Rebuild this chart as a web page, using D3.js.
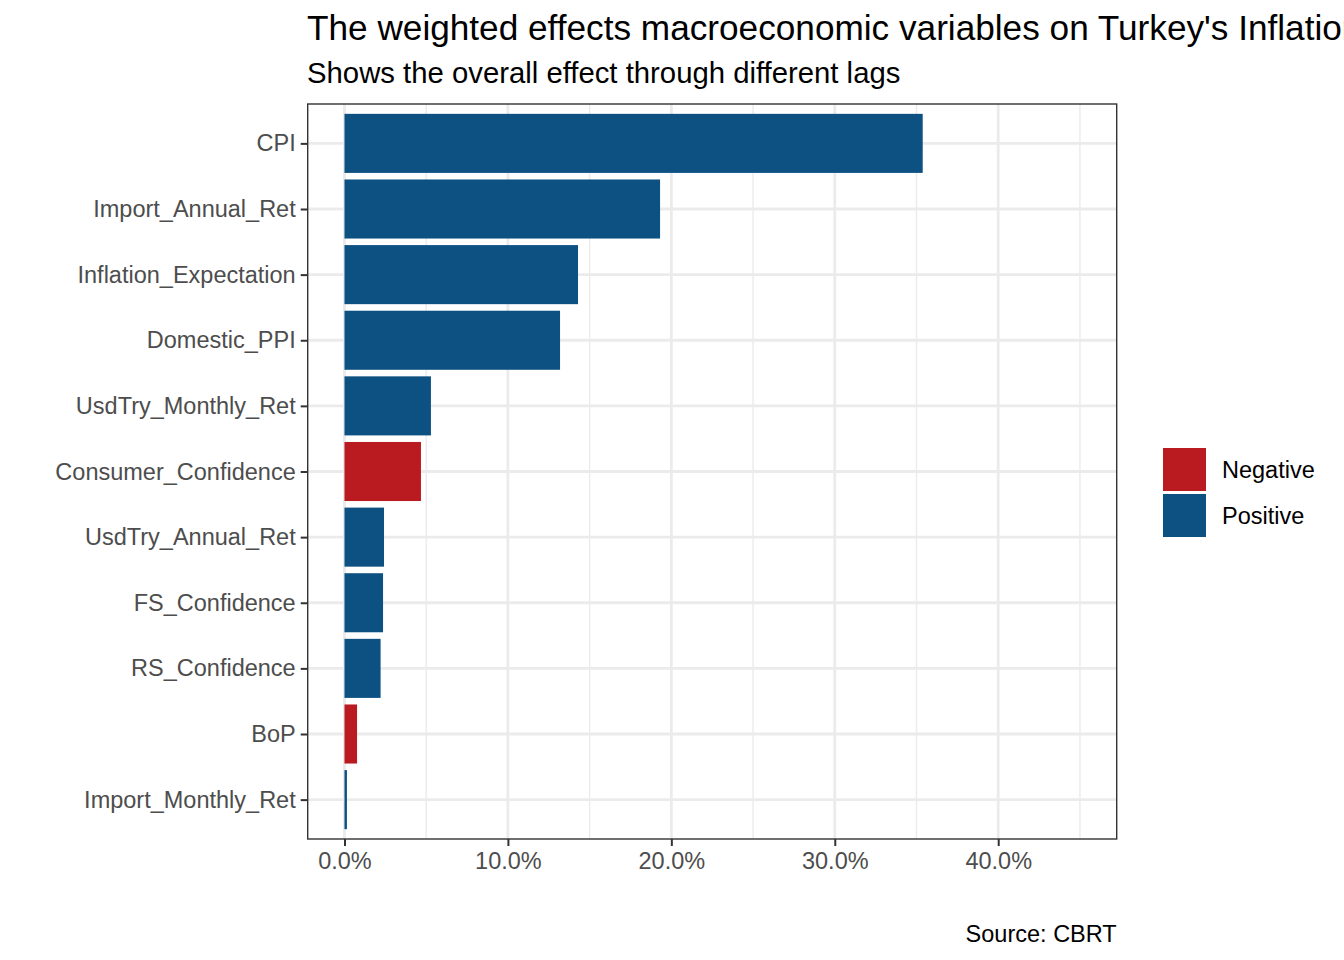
<!DOCTYPE html>
<html>
<head>
<meta charset="utf-8">
<script src="https://cdn.jsdelivr.net/npm/d3@7"></script>
<style>
  html, body { margin: 0; padding: 0; background: #fff; }
  svg { display: block; font-family: "Liberation Sans", Arial, Helvetica, sans-serif; }
</style>
</head>
<body>
<svg id="chart" width="1344" height="960"></svg>
<script>
// ---- data ----
const categories = ["CPI", "Import_Annual_Ret", "Inflation_Expectation", "Domestic_PPI",
  "UsdTry_Monthly_Ret", "Consumer_Confidence", "UsdTry_Annual_Ret", "FS_Confidence",
  "RS_Confidence", "BoP", "Import_Monthly_Ret"];
const values = [0.3538, 0.1931, 0.1429, 0.1319, 0.0529, 0.0468, 0.0242, 0.0236, 0.0221, 0.0077, 0.0015];
const signs = ["Positive", "Positive", "Positive", "Positive", "Positive", "Negative",
  "Positive", "Positive", "Positive", "Negative", "Positive"];
const legendLabels = ["Negative", "Positive"];
const legendColors = ["#BA1B21", "#0C5181"];
const xTicks = [0, 0.1, 0.2, 0.3, 0.4];
const xMinor = [0.05, 0.15, 0.25, 0.35, 0.45];
const titleText = "The weighted effects macroeconomic variables on Turkey's Inflation";
const subtitleText = "Shows the overall effect through different lags";
const captionText = "Source: CBRT";

// ---- layout ----
const svg = d3.select("#chart");
const panel = { left: 307.7, right: 1116.7, top: 104, bottom: 839 };
const xLim = [0, 0.45];
const xExp = (xLim[1] - xLim[0]) * 0.05;
const x = d3.scaleLinear().domain([xLim[0] - xExp, xLim[1] + xExp]).range([panel.left, panel.right]);
const yIdx = d3.scaleLinear().domain([-0.6, categories.length - 1 + 0.6]).range([panel.top, panel.bottom]);
const rowH = yIdx(1) - yIdx(0);
const barH = rowH * 0.9;
const color = d3.scaleOrdinal().domain(legendLabels).range(legendColors);

// panel background
svg.append("rect").attr("x", panel.left).attr("y", panel.top)
  .attr("width", panel.right - panel.left).attr("height", panel.bottom - panel.top)
  .attr("fill", "#fff");

const clip = svg.append("g");
// minor grid
clip.selectAll(".minor").data(xMinor).join("line")
  .attr("x1", d => x(d)).attr("x2", d => x(d))
  .attr("y1", panel.top).attr("y2", panel.bottom)
  .attr("stroke", "#EBEBEB").attr("stroke-width", 1.4);
// major grid x
clip.selectAll(".majx").data(xTicks).join("line")
  .attr("x1", d => x(d)).attr("x2", d => x(d))
  .attr("y1", panel.top).attr("y2", panel.bottom)
  .attr("stroke", "#EBEBEB").attr("stroke-width", 2.8);
// major grid y
clip.selectAll(".majy").data(categories).join("line")
  .attr("x1", panel.left).attr("x2", panel.right)
  .attr("y1", (d, i) => yIdx(i)).attr("y2", (d, i) => yIdx(i))
  .attr("stroke", "#EBEBEB").attr("stroke-width", 2.8);

// bars
svg.append("g").selectAll("rect").data(categories).join("rect")
  .attr("x", x(0))
  .attr("y", (d, i) => yIdx(i) - barH / 2)
  .attr("width", (d, i) => x(values[i]) - x(0))
  .attr("height", barH)
  .attr("fill", (d, i) => color(signs[i]));

// panel border
svg.append("rect").attr("x", panel.left).attr("y", panel.top)
  .attr("width", panel.right - panel.left).attr("height", panel.bottom - panel.top)
  .attr("fill", "none").attr("stroke", "#333333").attr("stroke-width", 1.4);

// x axis
const xAxis = d3.axisBottom(x).tickValues(xTicks).tickSize(7).tickPadding(6)
  .tickFormat(d3.format(".1%"));
const gx = svg.append("g").attr("transform", `translate(0,${panel.bottom})`).call(xAxis);
gx.select(".domain").remove();
gx.selectAll(".tick line").attr("stroke", "#333333").attr("stroke-width", 2);
gx.selectAll(".tick text").attr("fill", "#4D4D4D").attr("font-size", "23.5px")
  .attr("font-family", "'Liberation Sans', Arial, sans-serif");

// y axis
const yBand = d3.scalePoint().domain(categories)
  .range([yIdx(0), yIdx(categories.length - 1)]);
const yAxis = d3.axisLeft(yBand).tickSize(7).tickPadding(5);
const gy = svg.append("g").attr("transform", `translate(${panel.left},0)`).call(yAxis);
gy.select(".domain").remove();
gy.selectAll(".tick line").attr("stroke", "#333333").attr("stroke-width", 2);
gy.selectAll(".tick text").attr("fill", "#4D4D4D").attr("font-size", "23.5px")
  .attr("font-family", "'Liberation Sans', Arial, sans-serif");

// titles
svg.append("text").attr("x", 307).attr("y", 40).attr("font-size", "35.2px")
  .attr("fill", "#000").text(titleText);
svg.append("text").attr("x", 307).attr("y", 83).attr("font-size", "29.3px")
  .attr("fill", "#000").text(subtitleText);
svg.append("text").attr("x", panel.right).attr("y", 942).attr("font-size", "23.5px")
  .attr("text-anchor", "end").attr("fill", "#000").text(captionText);

// legend
const leg = svg.append("g");
const keyY = [448, 494];
legendLabels.forEach((lab, i) => {
  leg.append("rect").attr("x", 1163).attr("y", keyY[i]).attr("width", 43).attr("height", 43)
    .attr("fill", legendColors[i]);
  leg.append("text").attr("x", 1222).attr("y", keyY[i] + 21.5).attr("dy", "0.35em")
    .attr("font-size", "23.5px").attr("fill", "#000").text(lab);
});
</script>
</body>
</html>
